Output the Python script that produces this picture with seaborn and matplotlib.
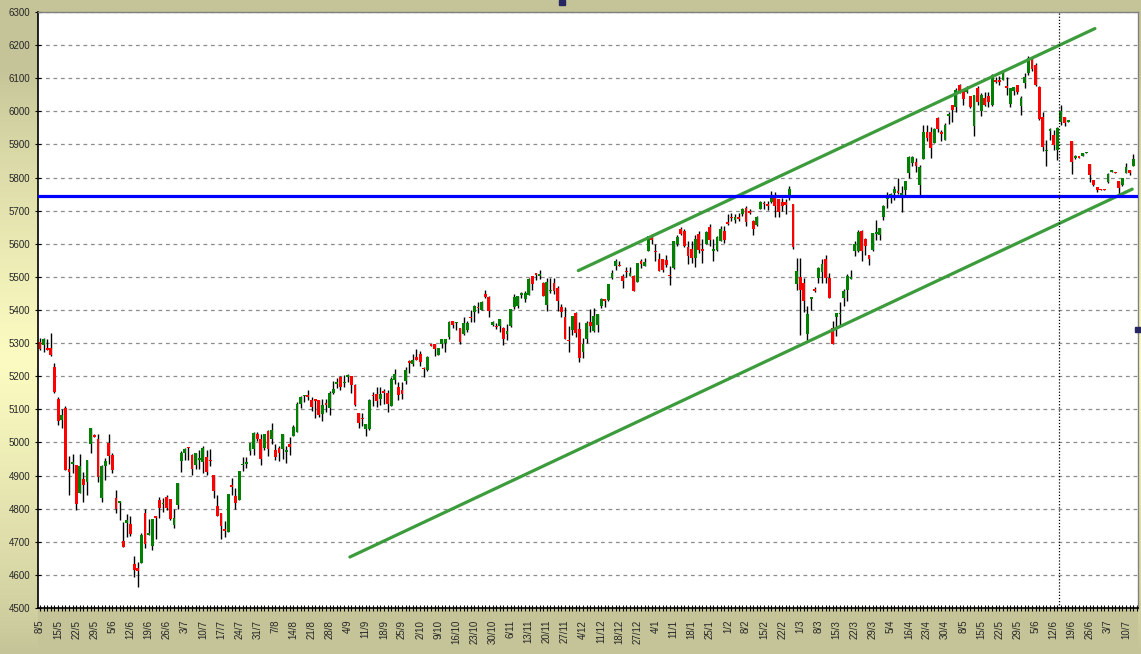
import numpy as np
import matplotlib
matplotlib.use("Agg")
import matplotlib.pyplot as plt
from matplotlib.patches import Rectangle
import pandas as pd
import seaborn as sns

# daily OHLC (one value per trading day)
opens = [
    5302, 5295, 5285, 5285, 5227, 5132, 5068, 5103, 4920, 4934, 4933, 4846, 4891, 4880, 4995, 5021, 5009, 4833, 4928, 4999,
    4962, 4833, 4818, 4703, 4756, 4755, 4633, 4622, 4637, 4788, 4720, 4686, 4779, 4827, 4813, 4836, 4829, 4751, 4812, 4945,
    4967, 4985, 4962, 4933, 4948, 4940, 4955, 4946, 4903, 4809, 4788, 4739, 4730, 4870, 4839, 4827, 4931, 4936, 4973, 4979,
    5024, 5009, 4983, 5034, 5011, 4978, 4983, 4981, 4972, 4994, 5019, 5032, 5117, 5139, 5142, 5127, 5130, 5127, 5085, 5118,
    5103, 5148, 5178, 5197, 5180, 5198, 5202, 5172, 5090, 5075, 5042, 5041, 5142, 5147, 5130, 5154, 5148, 5110, 5190, 5168,
    5157, 5185, 5245, 5238, 5259, 5268, 5224, 5220, 5298, 5298, 5263, 5296, 5299, 5318, 5368, 5361, 5346, 5329, 5341, 5379,
    5395, 5410, 5400, 5449, 5439, 5356, 5353, 5353, 5345, 5328, 5351, 5408, 5411, 5446, 5433, 5446, 5502, 5511, 5502, 5482,
    5416, 5456, 5482, 5466, 5410, 5380, 5310, 5339, 5391, 5343, 5272, 5313, 5363, 5336, 5356, 5413, 5432, 5431, 5496, 5532,
    5536, 5502, 5519, 5502, 5502, 5484, 5548, 5534, 5579, 5622, 5579, 5554, 5554, 5551, 5506, 5526, 5599, 5645, 5638, 5591,
    5585, 5557, 5631, 5583, 5598, 5651, 5578, 5581, 5608, 5638, 5663, 5679, 5671, 5680, 5689, 5709, 5699, 5668, 5658, 5704,
    5724, 5719, 5726, 5742, 5736, 5726, 5726, 5746, 5719, 5478, 5501, 5481, 5327, 5434, 5461, 5498, 5516, 5555, 5498, 5347,
    5380, 5387, 5437, 5461, 5495, 5578, 5578, 5638, 5613, 5565, 5581, 5631, 5625, 5681, 5734, 5739, 5754, 5759, 5747, 5763,
    5815, 5844, 5848, 5777, 5855, 5939, 5939, 5904, 5979, 5939, 5914, 5986, 6020, 6014, 6080, 6060, 6057, 6045, 5956, 6070,
    6002, 6040, 6045, 6020, 6093, 6095, 6095, 6075, 6023, 6060, 6080, 6017, 6087, 6115, 6160, 6140, 6073, 5982, 5879, 5942,
    5929, 5884, 5967, 5984, 5969, 5911, 5858, 5863, 5865, 5874, 5841, 5793, 5770, 5765, 5765, 5788, 5818, 5818, 5790, 5778,
    5813, 5823, 5835,
]
highs = [
    5314, 5314, 5312, 5330, 5240, 5136, 5100, 5109, 4960, 4964, 4933, 4964, 4910, 4948, 5045, 5024, 5025, 4932, 4954, 5024,
    4969, 4857, 4824, 4761, 4785, 4779, 4658, 4640, 4726, 4800, 4770, 4770, 4779, 4836, 4833, 4842, 4829, 4800, 4879, 4974,
    4982, 4985, 4964, 4969, 4977, 4988, 4976, 4979, 4903, 4842, 4788, 4764, 4845, 4894, 4861, 4915, 4955, 4955, 4999, 5031,
    5032, 5024, 5027, 5039, 5059, 4994, 4989, 5025, 4988, 5015, 5052, 5123, 5140, 5144, 5157, 5137, 5130, 5127, 5130, 5130,
    5155, 5185, 5195, 5200, 5204, 5208, 5202, 5178, 5090, 5090, 5057, 5130, 5153, 5167, 5167, 5160, 5158, 5198, 5223, 5183,
    5183, 5228, 5250, 5266, 5282, 5275, 5228, 5261, 5298, 5298, 5285, 5313, 5313, 5366, 5368, 5364, 5346, 5379, 5366, 5401,
    5415, 5425, 5426, 5459, 5442, 5368, 5360, 5373, 5348, 5358, 5403, 5448, 5441, 5455, 5458, 5498, 5504, 5512, 5522, 5484,
    5497, 5496, 5496, 5471, 5418, 5408, 5353, 5383, 5395, 5363, 5315, 5366, 5403, 5405, 5388, 5435, 5434, 5480, 5522, 5554,
    5549, 5509, 5529, 5529, 5506, 5542, 5554, 5556, 5624, 5630, 5599, 5572, 5554, 5566, 5534, 5609, 5625, 5650, 5645, 5608,
    5608, 5626, 5639, 5613, 5639, 5659, 5615, 5624, 5653, 5655, 5689, 5694, 5689, 5694, 5709, 5714, 5704, 5673, 5684, 5729,
    5729, 5729, 5758, 5756, 5736, 5739, 5734, 5776, 5719, 5556, 5556, 5498, 5412, 5440, 5470, 5531, 5555, 5565, 5513, 5367,
    5390, 5425, 5463, 5508, 5521, 5608, 5643, 5641, 5616, 5565, 5633, 5673, 5648, 5716, 5756, 5752, 5776, 5799, 5775, 5791,
    5864, 5864, 5858, 5838, 5959, 5959, 5954, 5949, 5984, 5944, 5964, 5999, 6020, 6070, 6083, 6067, 6075, 6047, 6050, 6075,
    6055, 6057, 6057, 6113, 6105, 6108, 6122, 6105, 6070, 6073, 6080, 6045, 6117, 6168, 6164, 6145, 6075, 5999, 5914, 5949,
    5944, 5954, 6020, 5984, 5974, 5911, 5868, 5863, 5875, 5877, 5841, 5793, 5770, 5765, 5765, 5815, 5823, 5818, 5790, 5800,
    5845, 5823, 5871,
]
lows = [
    5280, 5274, 5278, 5262, 5150, 5052, 5044, 4918, 4840, 4908, 4797, 4846, 4821, 4840, 4969, 5015, 4880, 4821, 4886, 4936,
    4907, 4786, 4767, 4683, 4714, 4718, 4593, 4563, 4637, 4681, 4720, 4676, 4709, 4773, 4789, 4797, 4767, 4742, 4800, 4912,
    4948, 4948, 4903, 4921, 4921, 4909, 4903, 4930, 4833, 4779, 4709, 4715, 4730, 4842, 4800, 4827, 4915, 4924, 4961, 4961,
    5004, 4931, 4976, 4958, 4994, 4948, 4943, 4950, 4938, 4961, 5019, 5032, 5104, 5122, 5127, 5095, 5073, 5076, 5064, 5091,
    5082, 5145, 5165, 5157, 5167, 5182, 5148, 5110, 5045, 5051, 5019, 5037, 5111, 5106, 5114, 5117, 5091, 5110, 5175, 5127,
    5130, 5175, 5210, 5230, 5248, 5230, 5197, 5217, 5290, 5261, 5263, 5286, 5273, 5311, 5345, 5341, 5298, 5323, 5333, 5365,
    5363, 5392, 5400, 5435, 5378, 5353, 5343, 5333, 5293, 5308, 5348, 5403, 5405, 5436, 5425, 5445, 5461, 5491, 5495, 5441,
    5398, 5451, 5448, 5398, 5380, 5311, 5274, 5323, 5318, 5242, 5254, 5300, 5333, 5333, 5333, 5405, 5410, 5428, 5494, 5522,
    5532, 5467, 5499, 5502, 5456, 5484, 5526, 5534, 5579, 5599, 5549, 5519, 5516, 5529, 5474, 5524, 5594, 5628, 5591, 5538,
    5543, 5531, 5573, 5543, 5598, 5593, 5548, 5579, 5608, 5601, 5658, 5668, 5663, 5668, 5684, 5653, 5689, 5625, 5653, 5704,
    5706, 5702, 5722, 5681, 5681, 5699, 5691, 5731, 5584, 5461, 5324, 5394, 5307, 5400, 5455, 5483, 5481, 5483, 5435, 5297,
    5322, 5352, 5412, 5428, 5493, 5563, 5575, 5548, 5565, 5535, 5578, 5611, 5611, 5671, 5709, 5724, 5731, 5749, 5697, 5748,
    5798, 5834, 5818, 5744, 5855, 5909, 5859, 5904, 5939, 5909, 5912, 5962, 5969, 5999, 6055, 6020, 6055, 6010, 5926, 6020,
    5987, 6015, 6013, 6017, 6085, 6080, 6095, 6050, 6013, 6050, 6053, 5990, 6070, 6110, 6123, 6077, 5974, 5879, 5836, 5914,
    5884, 5853, 5959, 5956, 5969, 5810, 5855, 5860, 5865, 5874, 5788, 5773, 5757, 5761, 5761, 5785, 5818, 5813, 5751, 5775,
    5813, 5808, 5835,
]
closes = [
    5282, 5312, 5280, 5264, 5153, 5065, 5082, 4918, 4910, 4942, 4814, 4930, 4871, 4948, 5045, 5015, 4895, 4930, 4944, 4959,
    4916, 4798, 4824, 4683, 4767, 4722, 4615, 4612, 4721, 4694, 4726, 4770, 4773, 4803, 4816, 4802, 4770, 4773, 4879, 4967,
    4979, 4982, 4921, 4967, 4951, 4982, 4912, 4943, 4852, 4779, 4749, 4733, 4845, 4864, 4818, 4915, 4934, 4942, 4999, 5028,
    5009, 4950, 5027, 4980, 5039, 4955, 4967, 5025, 4976, 4987, 5046, 5116, 5137, 5144, 5136, 5107, 5124, 5082, 5112, 5113,
    5148, 5160, 5180, 5167, 5184, 5203, 5172, 5113, 5060, 5070, 5057, 5127, 5139, 5125, 5145, 5148, 5115, 5193, 5208, 5142,
    5145, 5219, 5240, 5250, 5250, 5242, 5222, 5258, 5290, 5281, 5285, 5311, 5313, 5364, 5354, 5364, 5303, 5361, 5361, 5375,
    5412, 5405, 5423, 5439, 5398, 5363, 5348, 5373, 5313, 5338, 5403, 5440, 5441, 5450, 5450, 5494, 5479, 5506, 5509, 5441,
    5484, 5461, 5456, 5428, 5393, 5311, 5305, 5382, 5331, 5255, 5298, 5361, 5353, 5383, 5388, 5432, 5428, 5480, 5512, 5548,
    5532, 5489, 5514, 5512, 5456, 5542, 5538, 5544, 5622, 5612, 5574, 5519, 5522, 5536, 5502, 5609, 5620, 5630, 5593, 5563,
    5557, 5615, 5581, 5578, 5637, 5611, 5583, 5619, 5645, 5610, 5661, 5677, 5681, 5676, 5704, 5666, 5692, 5645, 5681, 5727,
    5719, 5714, 5744, 5714, 5696, 5714, 5716, 5766, 5589, 5518, 5461, 5428, 5387, 5440, 5458, 5526, 5538, 5498, 5435, 5297,
    5390, 5389, 5458, 5503, 5497, 5598, 5635, 5578, 5593, 5555, 5633, 5635, 5648, 5713, 5744, 5749, 5766, 5754, 5754, 5791,
    5862, 5862, 5835, 5831, 5939, 5919, 5889, 5946, 5946, 5932, 5959, 5991, 6004, 6065, 6062, 6037, 6067, 6013, 6050, 6027,
    6050, 6020, 6027, 6110, 6090, 6090, 6117, 6070, 6070, 6073, 6057, 6040, 6105, 6160, 6127, 6080, 5976, 5891, 5884, 5944,
    5899, 5949, 6000, 5966, 5974, 5848, 5865, 5860, 5875, 5877, 5808, 5778, 5762, 5761, 5761, 5811, 5823, 5813, 5768, 5798,
    5833, 5815, 5855,
]

# weekly axis labels (every 5th trading day)
week_labels = [
    "8/5", "15/5", "22/5", "29/5", "5/6", "12/6", "19/6", "26/6", "3/7", "10/7", "17/7", "24/7", "31/7",
    "7/8", "14/8", "21/8", "28/8", "4/9", "11/9", "18/9", "25/9", "2/10", "9/10", "16/10", "23/10", "30/10",
    "6/11", "13/11", "20/11", "27/11", "4/12", "11/12", "18/12", "27/12", "4/1", "11/1", "18/1", "25/1",
    "1/2", "8/2", "15/2", "22/2", "1/3", "8/3", "15/3", "22/3", "29/3", "5/4", "16/4", "23/4", "30/4",
    "8/5", "15/5", "22/5", "29/5", "5/6", "12/6", "19/6", "26/6", "3/7", "10/7",
]

# trend channel (day index, level) and reference levels
lower_channel_day = [85.6, 301.7]
lower_channel_val = [4654, 5765]
upper_channel_day = [148.7, 291.4]
upper_channel_val = [5519, 6250]
support_level = 5745
marker_day = 281.5

df = pd.DataFrame({"open": opens, "high": highs, "low": lows, "close": closes})
df["day"] = np.arange(len(df))
df["up"] = df["close"] >= df["open"]

sns.set_style("white")
plt.rcParams["font.family"] = ["Liberation Sans", "DejaVu Sans"]

W, H = 1141, 654
fig = plt.figure(figsize=(W / 100, H / 100), dpi=100)

# background: olive frame with a light yellow glow on the side strips
olive = np.array([197, 196, 152]) / 255
pale = np.array([255, 255, 196]) / 255
yy = np.arange(H)[:, None]
xx = np.arange(W)[None, :]
glow = np.clip(1 - np.abs(yy - 360) / 290.0, 0, 1) ** 0.8
side = ((xx < 38) | (xx > 1137)).astype(float)
w = (glow * side)[..., None] * 0.95
bg = olive * (1 - w) + pale * w
bg_ax = fig.add_axes([0, 0, 1, 1], zorder=-10)
bg_ax.imshow(bg, aspect="auto", extent=[0, W, H, 0])
bg_ax.axis("off")

ax = fig.add_axes([38 / W, 46 / H, 1100 / W, 596 / H])
ax.set_facecolor("white")

# candles
ax.vlines(df["day"], df["low"], df["high"], color="black", lw=1.0, zorder=3)
body_bottom = np.minimum(df["open"], df["close"])
body_height = np.maximum((df["close"] - df["open"]).abs(), 4)
colors = np.where(df["up"], "#008000", "#FF0000")
ax.bar(df["day"], body_height, bottom=body_bottom, width=0.78, color=colors, linewidth=0, zorder=4)

# channel and support
sns.lineplot(x=lower_channel_day, y=lower_channel_val, color="#3C9C3C", lw=2.3, ax=ax, zorder=5)
sns.lineplot(x=upper_channel_day, y=upper_channel_val, color="#3C9C3C", lw=2.3, ax=ax, zorder=5)
ax.axhline(support_level, color="#0000FF", lw=2.3, zorder=6)
ax.axvline(marker_day, color="black", lw=0.9, ls=(0, (1, 1.5)), zorder=6)

ax.set_xlim(-0.55, 303.3)
ax.set_ylim(4500, 6300)
ax.set_yticks(np.arange(4500, 6301, 100))
ax.yaxis.grid(True, color="#8C8C8C", ls=(0, (3, 3)), lw=0.9)
ax.xaxis.grid(False)

ax.set_xticks(np.arange(0, len(week_labels) * 5, 5))
ax.set_xticklabels(week_labels, rotation=90)
ax.set_xticks(np.arange(0, 304), minor=True)
ax.tick_params(axis="x", which="both", direction="inout", length=5, width=0.8,
               color="black", labelsize=7, pad=6, bottom=True)
ax.tick_params(axis="y", which="major", direction="inout", length=5, width=0.8,
               color="black", labelsize=7, pad=3, left=True)

for s in ["left", "bottom"]:
    ax.spines[s].set_color("black")
    ax.spines[s].set_linewidth(1.2)
for s in ["top", "right"]:
    ax.spines[s].set_color("#808080")
    ax.spines[s].set_linewidth(1.0)

ax.set_xlabel("")
ax.set_ylabel("")

# selection handles along the frame
for hx, hy in [(559, 0), (1135, 327)]:
    fig.add_artist(Rectangle((hx / W, 1 - (hy + 5) / H), 6 / W, 5 / H,
                             transform=fig.transFigure, color="#262660", zorder=20))

fig.savefig("out.png", dpi=100)
